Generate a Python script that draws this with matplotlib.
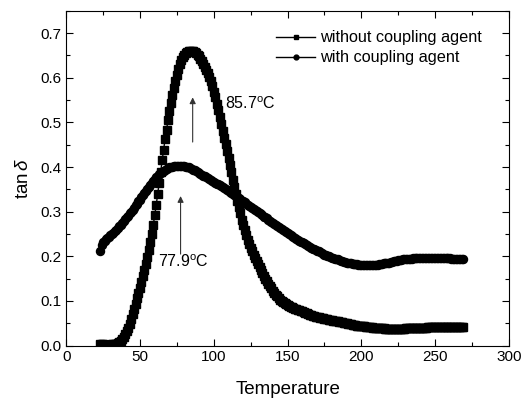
import numpy as np
import matplotlib
matplotlib.use("Agg")
import matplotlib.pyplot as plt
from matplotlib.ticker import MultipleLocator

plt.rcParams['font.family'] = ['Liberation Sans', 'DejaVu Sans']
plt.rcParams['mathtext.fontset'] = 'custom'
plt.rcParams['mathtext.rm'] = 'Liberation Sans'
plt.rcParams['mathtext.it'] = 'Liberation Sans:italic'

# temperature axis, one reading per degree
temperature = list(range(23, 270))

without_agent = [
    0.003, 0.003, 0.003, 0.002, 0.002, 0.002, 0.002, 0.002, 0.003, 0.003,
    0.003, 0.004, 0.005, 0.007, 0.010, 0.014, 0.019, 0.025, 0.032, 0.040,
    0.049, 0.059, 0.070, 0.082, 0.094, 0.106, 0.118, 0.130, 0.143, 0.156,
    0.169, 0.183, 0.198, 0.214, 0.231, 0.250, 0.270, 0.292, 0.315, 0.340,
    0.365, 0.390, 0.415, 0.439, 0.462, 0.484, 0.505, 0.525, 0.544, 0.562,
    0.578, 0.593, 0.607, 0.619, 0.630, 0.639, 0.646, 0.651, 0.655, 0.658,
    0.659, 0.660, 0.660, 0.659, 0.657, 0.655, 0.652, 0.648, 0.643, 0.637,
    0.631, 0.624, 0.617, 0.610, 0.602, 0.593, 0.582, 0.569, 0.556, 0.542,
    0.527, 0.511, 0.496, 0.481, 0.466, 0.451, 0.436, 0.420, 0.404, 0.388,
    0.372, 0.356, 0.340, 0.325, 0.310, 0.296, 0.282, 0.270, 0.258, 0.247,
    0.237, 0.228, 0.219, 0.211, 0.203, 0.196, 0.189, 0.182, 0.175, 0.169,
    0.162, 0.156, 0.150, 0.144, 0.139, 0.133, 0.128, 0.123, 0.118, 0.114,
    0.110, 0.106, 0.103, 0.100, 0.097, 0.095, 0.093, 0.091, 0.089, 0.087,
    0.086, 0.084, 0.083, 0.082, 0.080, 0.079, 0.078, 0.077, 0.075, 0.074,
    0.072, 0.071, 0.069, 0.068, 0.067, 0.066, 0.065, 0.064, 0.063, 0.062,
    0.061, 0.061, 0.060, 0.059, 0.059, 0.058, 0.057, 0.057, 0.056, 0.055,
    0.055, 0.054, 0.053, 0.053, 0.052, 0.051, 0.051, 0.050, 0.049, 0.049,
    0.048, 0.047, 0.047, 0.046, 0.045, 0.045, 0.044, 0.044, 0.043, 0.043,
    0.042, 0.042, 0.041, 0.041, 0.041, 0.040, 0.040, 0.040, 0.039, 0.039,
    0.039, 0.039, 0.039, 0.038, 0.038, 0.038, 0.038, 0.038, 0.038, 0.038,
    0.038, 0.038, 0.038, 0.038, 0.038, 0.038, 0.038, 0.039, 0.039, 0.039,
    0.039, 0.039, 0.039, 0.039, 0.039, 0.040, 0.040, 0.040, 0.040, 0.040,
    0.040, 0.040, 0.041, 0.041, 0.041, 0.041, 0.041, 0.041, 0.041, 0.041,
    0.042, 0.042, 0.042, 0.042, 0.042, 0.042, 0.042, 0.042, 0.042, 0.042,
    0.042, 0.042, 0.042, 0.042, 0.042, 0.042, 0.042,
]

with_agent = [
    0.211, 0.226, 0.231, 0.235, 0.238, 0.241, 0.244, 0.247, 0.250, 0.253,
    0.256, 0.260, 0.263, 0.267, 0.271, 0.275, 0.279, 0.283, 0.287, 0.291,
    0.296, 0.300, 0.304, 0.309, 0.314, 0.318, 0.323, 0.327, 0.332, 0.337,
    0.342, 0.347, 0.351, 0.356, 0.360, 0.365, 0.369, 0.373, 0.377, 0.380,
    0.384, 0.387, 0.390, 0.392, 0.394, 0.396, 0.398, 0.399, 0.400, 0.401,
    0.402, 0.402, 0.403, 0.403, 0.403, 0.403, 0.402, 0.402, 0.401, 0.400,
    0.399, 0.397, 0.396, 0.394, 0.393, 0.391, 0.389, 0.387, 0.385, 0.383,
    0.381, 0.379, 0.377, 0.375, 0.373, 0.371, 0.369, 0.367, 0.365, 0.363,
    0.361, 0.359, 0.357, 0.355, 0.353, 0.351, 0.349, 0.346, 0.344, 0.342,
    0.340, 0.338, 0.335, 0.333, 0.330, 0.328, 0.325, 0.323, 0.321, 0.318,
    0.316, 0.313, 0.311, 0.309, 0.306, 0.304, 0.301, 0.299, 0.297, 0.294,
    0.292, 0.289, 0.287, 0.285, 0.282, 0.280, 0.277, 0.275, 0.273, 0.271,
    0.268, 0.266, 0.264, 0.262, 0.259, 0.257, 0.255, 0.252, 0.250, 0.248,
    0.246, 0.243, 0.241, 0.239, 0.237, 0.235, 0.233, 0.231, 0.229, 0.227,
    0.225, 0.223, 0.221, 0.219, 0.217, 0.216, 0.214, 0.212, 0.211, 0.209,
    0.207, 0.206, 0.204, 0.203, 0.201, 0.200, 0.199, 0.197, 0.196, 0.195,
    0.194, 0.193, 0.191, 0.190, 0.189, 0.188, 0.187, 0.186, 0.186, 0.185,
    0.184, 0.183, 0.183, 0.182, 0.182, 0.181, 0.181, 0.181, 0.180, 0.180,
    0.180, 0.180, 0.180, 0.180, 0.180, 0.180, 0.181, 0.181, 0.181, 0.182,
    0.182, 0.183, 0.184, 0.184, 0.185, 0.186, 0.186, 0.187, 0.188, 0.189,
    0.189, 0.190, 0.191, 0.191, 0.192, 0.193, 0.193, 0.194, 0.194, 0.195,
    0.195, 0.195, 0.196, 0.196, 0.196, 0.196, 0.197, 0.197, 0.197, 0.197,
    0.197, 0.197, 0.197, 0.197, 0.197, 0.197, 0.197, 0.197, 0.197, 0.197,
    0.197, 0.197, 0.196, 0.196, 0.196, 0.196, 0.196, 0.196, 0.195, 0.195,
    0.195, 0.195, 0.195, 0.195, 0.194, 0.194, 0.194,
]

series_labels = ["without coupling agent", "with coupling agent"]
peak_temps = [85.7, 77.9]

fig = plt.figure(figsize=(5.21, 4.0), dpi=100)
ax = fig.add_axes([0.127, 0.136, 0.850, 0.837])

ax.plot(temperature, without_agent, "s-", color="black", markersize=5.2,
        linewidth=1, label=series_labels[0])
ax.plot(temperature, with_agent, "o-", color="black", markersize=5.8,
        linewidth=1, label=series_labels[1])

ax.set_xlim(0, 300)
ax.set_ylim(0, 0.75)
ax.xaxis.set_major_locator(MultipleLocator(50))
ax.xaxis.set_minor_locator(MultipleLocator(25))
ax.yaxis.set_major_locator(MultipleLocator(0.1))
ax.yaxis.set_minor_locator(MultipleLocator(0.05))
ax.yaxis.set_major_formatter(matplotlib.ticker.FormatStrFormatter('%.1f'))
ax.tick_params(which='both', direction='in', top=True, right=True,
               labelsize=11, width=0.8)
ax.tick_params(which='major', length=5)
ax.tick_params(which='minor', length=3)
for s in ax.spines.values():
    s.set_linewidth(0.8)

ax.set_xlabel("Temperature", fontsize=13.5, labelpad=12)
ax.set_ylabel(r"tan$\,\delta$", fontsize=13.5, labelpad=6)

# peak markers
ax.annotate("", xy=(peak_temps[0], 0.556), xytext=(peak_temps[0], 0.456),
            arrowprops=dict(arrowstyle='-|>', color='#333333', lw=0.8,
                            mutation_scale=9, shrinkA=0, shrinkB=0))
ax.text(107.5, 0.541, r"%.1f$^\mathrm{o}$C" % peak_temps[0], fontsize=11.5,
        va='center', ha='left')
ax.annotate("", xy=(peak_temps[1] - 0.4, 0.335), xytext=(peak_temps[1] - 0.4, 0.205),
            arrowprops=dict(arrowstyle='-|>', color='#333333', lw=0.8,
                            mutation_scale=9, shrinkA=0, shrinkB=0))
ax.text(62, 0.189, r"%.1f$^\mathrm{o}$C" % peak_temps[1], fontsize=11.5,
        va='center', ha='left')

leg = ax.legend(loc='upper right', bbox_to_anchor=(0.972, 0.985), frameon=False,
                fontsize=11.7, handlelength=2.4, handletextpad=0.3,
                labelspacing=0.3, markerscale=0.6)

fig.savefig("out.png", dpi=100)
